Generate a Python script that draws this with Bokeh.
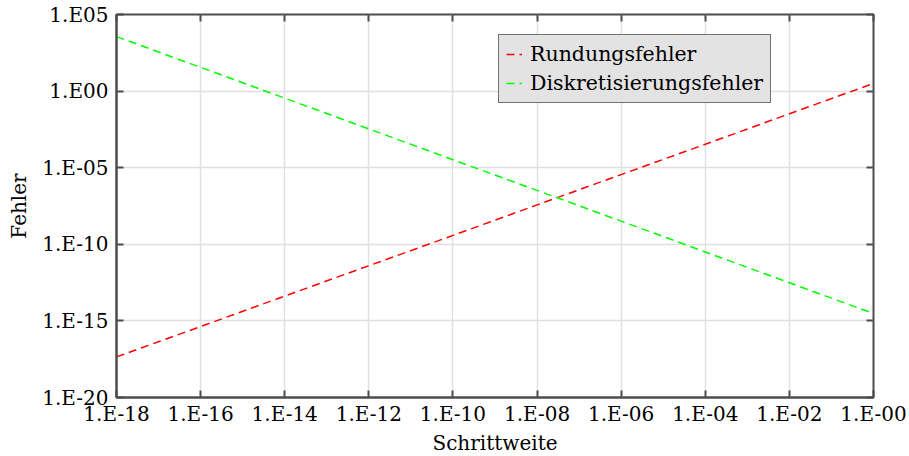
from bokeh.plotting import figure
from bokeh.models import FixedTicker, LogAxis, Legend, LegendItem
from bokeh.embed import file_html
from bokeh.resources import INLINE

# data
schrittweite = [1e-18, 1e-16, 1e-14, 1e-12, 1e-10, 1e-8, 1e-6, 1e-4, 1e-2, 1e0]
rundungsfehler = [4.47e-18, 4.27e-16, 4.17e-14, 3.98e-12, 3.80e-10, 3.72e-8, 3.55e-6, 3.39e-4, 3.31e-2, 3.16]
diskretisierungsfehler = [3.6e3, 35.5, 0.347, 3.39e-3, 3.31e-5, 3.31e-7, 3.24e-9, 3.16e-11, 3.09e-13, 3.02e-15]

x_ticks = [1e-18, 1e-16, 1e-14, 1e-12, 1e-10, 1e-8, 1e-6, 1e-4, 1e-2, 1e0]
x_tick_labels = ["1.E-18", "1.E-16", "1.E-14", "1.E-12", "1.E-10", "1.E-08", "1.E-06", "1.E-04", "1.E-02", "1.E-00"]
y_ticks = [1e-20, 1e-15, 1e-10, 1e-5, 1e0, 1e5]
y_tick_labels = ["1.E-20", "1.E-15", "1.E-10", "1.E-05", "1.E00", "1.E05"]

FONT = "DejaVu Serif"
AX = "#4d4d4d"

p = figure(width=909, height=456, frame_width=757, frame_height=383,
           x_axis_type="log", y_axis_type="log",
           x_range=(1e-18, 1e0), y_range=(1e-20, 1e5),
           output_backend="svg", toolbar_location=None,
           min_border_left=116, min_border_top=14, min_border_right=36, min_border_bottom=59)

p.outline_line_color = AX
p.outline_line_width = 2

for ax, ticks, labels in ((p.xaxis[0], x_ticks, x_tick_labels), (p.yaxis[0], y_ticks, y_tick_labels)):
    ax.ticker = FixedTicker(ticks=ticks, minor_ticks=[])
    ax.major_label_overrides = {t: l for t, l in zip(ticks, labels)}
    ax.major_label_text_font = FONT
    ax.major_label_text_font_size = "20px"
    ax.major_label_text_color = "black"
    ax.axis_line_color = AX
    ax.axis_line_width = 2
    ax.major_tick_in = 7
    ax.major_tick_out = 0
    ax.major_tick_line_color = AX
    ax.major_tick_line_width = 2
    ax.minor_tick_line_color = None
    ax.axis_label_text_font = FONT
    ax.axis_label_text_font_size = "20px"
    ax.axis_label_text_font_style = "normal"
    ax.axis_label_text_color = "black"

p.xaxis[0].axis_label = "Schrittweite"
p.yaxis[0].axis_label = "Fehler"
p.xaxis[0].major_label_standoff = 4
p.yaxis[0].major_label_standoff = 8
p.xaxis[0].axis_label_standoff = 2
p.yaxis[0].axis_label_standoff = 8

for loc, ticks in (("above", x_ticks), ("right", y_ticks)):
    a = LogAxis(ticker=FixedTicker(ticks=ticks, minor_ticks=[]))
    a.major_label_text_font_size = "0px"
    a.major_label_text_color = None
    a.axis_line_color = None
    a.major_tick_in = 7
    a.major_tick_out = 0
    a.major_tick_line_color = AX
    a.major_tick_line_width = 2
    a.minor_tick_line_color = None
    p.add_layout(a, loc)

p.xgrid.ticker = FixedTicker(ticks=x_ticks, minor_ticks=[])
p.ygrid.ticker = FixedTicker(ticks=y_ticks, minor_ticks=[])
p.grid.grid_line_color = "#e0e0e0"
p.grid.grid_line_width = 1.5

r1 = p.line(schrittweite, rundungsfehler, line_color="#ff0000", line_width=1.5, line_dash="8 5")
r2 = p.line(schrittweite, diskretisierungsfehler, line_color="#00ff00", line_width=1.5, line_dash="8 5")

legend = Legend(items=[LegendItem(label="Rundungsfehler", renderers=[r1]),
                       LegendItem(label="Diskretisierungsfehler", renderers=[r2])],
                location=(382, 294))
legend.label_text_font = FONT
legend.label_text_font_size = "20.5px"
legend.label_text_color = "black"
legend.background_fill_color = "#e3e3e3"
legend.background_fill_alpha = 1
legend.border_line_color = "black"
legend.border_line_width = 1
legend.glyph_width = 16
legend.label_standoff = 8
legend.padding = 7
legend.spacing = 5
legend.margin = 0
p.add_layout(legend, "center")

open("out.html", "w").write(file_html(p, INLINE))
